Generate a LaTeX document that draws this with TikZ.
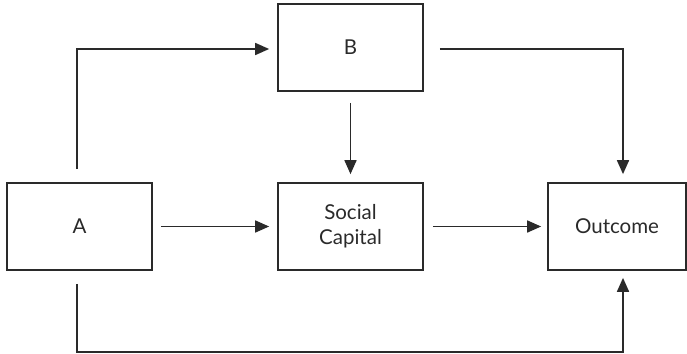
\documentclass[tikz,border=0pt]{standalone}
\usepackage{fontspec}
\setmainfont{Lato}
\usetikzlibrary{arrows.meta}
\definecolor{ink}{HTML}{2A2A2A}
\tikzset{
  box/.style={draw=ink, line width=1.7pt, minimum width=145pt, minimum height=87pt,
    inner sep=0pt, align=center, text=ink, font=\fontsize{20.5pt}{25pt}\selectfont},
  arr/.style={draw=ink, line width=1.7pt, -{Triangle[length=14pt,width=12pt]}}
}
\begin{document}
\begin{tikzpicture}[x=1pt,y=-1pt]
\useasboundingbox (0,0) rectangle (687,353);
\node[box] (A) at (79.5,226.5) {A};
\node[box] (B) at (350.5,47.5) {B};
\node[box] (S) at (350.5,226.5) {Social\\Capital};
\node[box, minimum width=138pt] (O) at (617,226.5) {Outcome};
\draw[arr] ([xshift=-2.5pt,yshift=13pt]A.north) |- ([xshift=-8pt,yshift=-1.5pt]B.west);
\draw[arr] ([xshift=16pt,yshift=-1.5pt]B.east) -| ([xshift=6pt,yshift=8pt]O.north);
\draw[arr] ([yshift=-11pt]B.south) -- ([yshift=8pt]S.north);
\draw[arr] ([xshift=8pt]A.east) -- ([xshift=-8pt]S.west);
\draw[arr] ([xshift=9pt]S.east) -- ([xshift=-6pt]O.west);
\draw[arr] ([xshift=-2.5pt,yshift=-13pt]A.south) -- ++(0,68) -| ([xshift=6pt,yshift=-7pt]O.south);
\end{tikzpicture}
\end{document}
